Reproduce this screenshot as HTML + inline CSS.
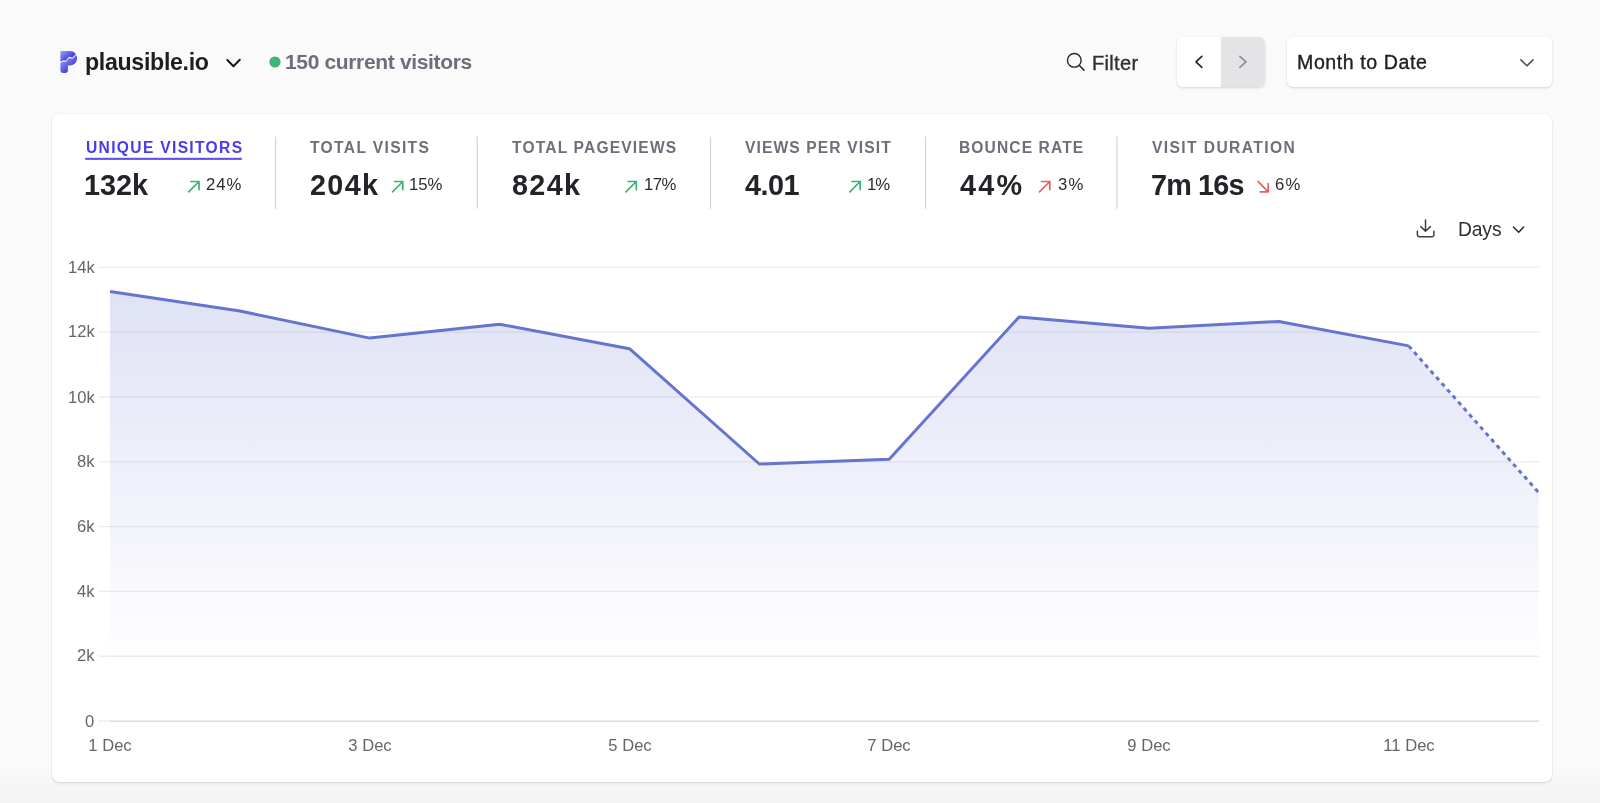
<!DOCTYPE html>
<html><head><meta charset="utf-8"><title>Plausible Dashboard</title>
<style>
html,body{margin:0;padding:0;}
body{width:1600px;height:803px;overflow:hidden;position:relative;background:#fafafa;font-family:"Liberation Sans",sans-serif;}
.abs{position:absolute;left:0;top:0;}
.t{position:absolute;white-space:nowrap;will-change:transform;}
.card{position:absolute;left:52px;top:114.2px;width:1500px;height:667.5px;background:#fff;border-radius:8px;box-shadow:0 0 0 1px rgba(0,0,0,0.025), 0 2px 3px 0 rgba(0,0,0,0.07), 0 1px 2px -1px rgba(0,0,0,0.1);}
.btn{position:absolute;background:#fff;border-radius:6px;box-shadow:0 1px 3px rgba(0,0,0,0.1), 0 1px 2px rgba(0,0,0,0.06);}
.bottomfade{position:absolute;left:0;top:765px;width:1600px;height:38px;background:linear-gradient(to bottom, rgba(0,0,0,0), rgba(0,0,0,0.028));}
</style></head>
<body>
<div class="bottomfade"></div>
<div class="card"></div>
<div class="btn" style="left:1177px;top:37.2px;width:88px;height:49.6px;overflow:hidden;"><div style="position:absolute;left:44px;top:0;width:44px;height:100%;background:#e4e4e7;"></div></div>
<div class="btn" style="left:1287px;top:37.3px;width:264.8px;height:49.6px;"></div>

<svg class="abs" width="1600" height="803" viewBox="0 0 1600 803">
 <defs>
  <linearGradient id="fillg" gradientUnits="userSpaceOnUse" x1="0" y1="267" x2="0" y2="665">
   <stop offset="0" stop-color="rgb(101,116,205)" stop-opacity="0.22"/>
   <stop offset="1" stop-color="rgb(101,116,205)" stop-opacity="0"/>
  </linearGradient>
  <linearGradient id="lg1" x1="0.05" y1="0.05" x2="0.8" y2="0.75">
   <stop offset="0" stop-color="#949cf1"/>
   <stop offset="1" stop-color="#3627d6"/>
  </linearGradient>
  <linearGradient id="lg2" x1="0.1" y1="0.25" x2="0.75" y2="1">
   <stop offset="0" stop-color="#8a93ef"/>
   <stop offset="1" stop-color="#3424d4"/>
  </linearGradient>
 </defs>
 <!-- gridlines -->
 <line x1="98.6" y1="267.40" x2="1539.2" y2="267.40" stroke="#ececef" stroke-width="1.3"/><line x1="98.6" y1="332.21" x2="1539.2" y2="332.21" stroke="#ececef" stroke-width="1.3"/><line x1="98.6" y1="397.02" x2="1539.2" y2="397.02" stroke="#ececef" stroke-width="1.3"/><line x1="98.6" y1="461.83" x2="1539.2" y2="461.83" stroke="#ececef" stroke-width="1.3"/><line x1="98.6" y1="526.64" x2="1539.2" y2="526.64" stroke="#ececef" stroke-width="1.3"/><line x1="98.6" y1="591.45" x2="1539.2" y2="591.45" stroke="#ececef" stroke-width="1.3"/><line x1="98.6" y1="656.26" x2="1539.2" y2="656.26" stroke="#ececef" stroke-width="1.3"/><line x1="98.6" y1="721.07" x2="110" y2="721.07" stroke="#ececef" stroke-width="1.3"/><line x1="109.5" y1="721.07" x2="1539.2" y2="721.07" stroke="#d6d6da" stroke-width="1.3"/>
 <!-- area -->
 <path d="M110.00,721.07 L110.00,291.50 L239.87,311.00 L369.74,338.10 L499.61,324.20 L629.48,348.70 L759.35,464.00 L889.22,459.20 L1019.09,316.90 L1148.96,328.20 L1278.83,321.50 L1408.70,345.90 L1538.57,492.50 L1538.57,721.07 Z" fill="url(#fillg)"/>
 <path d="M110.00,291.50 L239.87,311.00 L369.74,338.10 L499.61,324.20 L629.48,348.70 L759.35,464.00 L889.22,459.20 L1019.09,316.90 L1148.96,328.20 L1278.83,321.50 L1408.70,345.90" fill="none" stroke="rgb(101,116,205)" stroke-width="3.0" stroke-linejoin="round" stroke-linecap="butt"/>
 <path d="M1408.70,345.90 L1538.57,492.50" fill="none" stroke="rgb(101,116,205)" stroke-width="3.0" stroke-dasharray="4.2 4.1" stroke-linecap="butt"/>
 <!-- dividers -->
 <line x1="275.5" y1="136.6" x2="275.5" y2="208.8" stroke="#d4d4d8" stroke-width="1.2"/><line x1="477.3" y1="136.6" x2="477.3" y2="208.8" stroke="#d4d4d8" stroke-width="1.2"/><line x1="710.5" y1="136.6" x2="710.5" y2="208.8" stroke="#d4d4d8" stroke-width="1.2"/><line x1="925.5" y1="136.6" x2="925.5" y2="208.8" stroke="#d4d4d8" stroke-width="1.2"/><line x1="1116.9" y1="136.6" x2="1116.9" y2="208.8" stroke="#d4d4d8" stroke-width="1.2"/>
 <!-- underline -->
 <rect x="85.2" y="157.8" width="156.6" height="2.1" fill="#5b51ec"/>
 <!-- arrows -->
 <path d="M188.70,191.80 L199.00,181.50 M190.80,181.50 L199.00,181.50 L199.00,189.60" fill="none" stroke="#3bb273" stroke-width="1.7" stroke-linecap="round" stroke-linejoin="round"/><path d="M392.50,191.80 L402.80,181.50 M394.60,181.50 L402.80,181.50 L402.80,189.60" fill="none" stroke="#3bb273" stroke-width="1.7" stroke-linecap="round" stroke-linejoin="round"/><path d="M626.00,191.80 L636.30,181.50 M628.10,181.50 L636.30,181.50 L636.30,189.60" fill="none" stroke="#3bb273" stroke-width="1.7" stroke-linecap="round" stroke-linejoin="round"/><path d="M849.90,191.80 L860.20,181.50 M852.00,181.50 L860.20,181.50 L860.20,189.60" fill="none" stroke="#3bb273" stroke-width="1.7" stroke-linecap="round" stroke-linejoin="round"/><path d="M1039.50,191.80 L1049.80,181.50 M1041.60,181.50 L1049.80,181.50 L1049.80,189.60" fill="none" stroke="#e95f5f" stroke-width="1.7" stroke-linecap="round" stroke-linejoin="round"/><path d="M1258.00,181.40 L1268.20,191.80 M1260.20,191.80 L1268.20,191.80 L1268.20,183.70" fill="none" stroke="#e95f5f" stroke-width="1.7" stroke-linecap="round" stroke-linejoin="round"/>
 <!-- icons -->
 
<g fill="none" stroke-linecap="round" stroke-linejoin="round">
 <circle cx="1074.3" cy="60.3" r="6.85" stroke="#27272a" stroke-width="1.4"/>
 <path d="M1079.4,65.5 L1084,70.1" stroke="#27272a" stroke-width="1.5"/>
 <path d="M227.35,59.97 L233.45,66.2 L239.8,59.7" stroke="#18181b" stroke-width="2"/>
 <path d="M1201.8,56.4 L1196,61.9 L1201.8,67.4" stroke="#27272a" stroke-width="1.7"/>
 <path d="M1239.9,56.4 L1245.9,61.9 L1239.9,67.4" stroke="#8e8e9a" stroke-width="1.7"/>
 <path d="M1520.9,59.9 L1526.9,65.8 L1533,59.9" stroke="#52525b" stroke-width="1.6"/>
 <path d="M1513.4,227 L1518.7,232.2 L1523.7,227" stroke="#27272a" stroke-width="1.5"/>
 <path d="M1425.5,220.1 L1425.5,231.3 M1420.8,226.6 L1425.5,231.3 L1430.4,226.6 M1417.4,231.3 V235 Q1417.4,236.7 1419.1,236.7 H1432.2 Q1433.9,236.7 1433.9,235 V231.3" stroke="#3f3f46" stroke-width="1.5"/>
</g>
<circle cx="275" cy="62" r="5.6" fill="#3eb47b"/>
<path d="M60.4,51 L70,51 A7.1,7.25 0 0 1 75.88,54.14 L72.38,57.45 L68.89,56.76 L65.76,60.76 L63.32,60.24 L60.4,61.63 Z" fill="url(#lg1)"/>
<path d="M60.4,62.93 L63.32,61.54 L65.76,62.06 L68.89,58.06 L72.38,58.75 L76.38,55.0 A7.1,7.25 0 0 1 70,65.45 L67.9,65.45 L67.9,70.3 Q67.9,72.9 65.3,72.9 L62.8,72.9 Q60.4,72.9 60.4,70.5 Z" fill="url(#lg2)"/>

</svg>
<div class="t" id="brand" style="left:84.67px;top:51.26px;font-size:23.20px;line-height:23.20px;letter-spacing:-0.323px;color:#1d1d22;font-weight:700;">plausible.io</div>
<div class="t" id="live" style="left:284.90px;top:50.92px;font-size:21.00px;line-height:21.00px;letter-spacing:-0.348px;color:#6e6e7a;font-weight:700;">150 current visitors</div>
<div class="t" id="filter" style="left:1092.18px;top:52.87px;font-size:20.00px;line-height:20.00px;letter-spacing:0.340px;color:#2e2e35;font-weight:400;-webkit-text-stroke:0.35px #2e2e35;">Filter</div>
<div class="t" id="period" style="left:1297.44px;top:53.20px;font-size:19.60px;line-height:19.60px;letter-spacing:0.567px;color:#1d1d22;font-weight:400;-webkit-text-stroke:0.35px #1d1d22;">Month to Date</div>
<div class="t" id="lab0" style="left:85.86px;top:140.24px;font-size:15.60px;line-height:15.60px;letter-spacing:1.326px;color:#4a3aea;font-weight:700;">UNIQUE VISITORS</div>
<div class="t" id="lab1" style="left:310.33px;top:140.24px;font-size:15.60px;line-height:15.60px;letter-spacing:1.355px;color:#6e6e7b;font-weight:700;">TOTAL VISITS</div>
<div class="t" id="lab2" style="left:511.61px;top:140.24px;font-size:15.60px;line-height:15.60px;letter-spacing:1.166px;color:#6e6e7b;font-weight:700;">TOTAL PAGEVIEWS</div>
<div class="t" id="lab3" style="left:744.87px;top:140.24px;font-size:15.60px;line-height:15.60px;letter-spacing:1.120px;color:#6e6e7b;font-weight:700;">VIEWS PER VISIT</div>
<div class="t" id="lab4" style="left:958.85px;top:140.24px;font-size:15.60px;line-height:15.60px;letter-spacing:1.097px;color:#6e6e7b;font-weight:700;">BOUNCE RATE</div>
<div class="t" id="lab5" style="left:1151.86px;top:140.24px;font-size:15.60px;line-height:15.60px;letter-spacing:1.403px;color:#6e6e7b;font-weight:700;">VISIT DURATION</div>
<div class="t" id="val0" style="left:84.41px;top:170.62px;font-size:28.80px;line-height:28.80px;letter-spacing:-0.013px;color:#232328;font-weight:700;">132k</div>
<div class="t" id="val1" style="left:310.01px;top:170.62px;font-size:28.80px;line-height:28.80px;letter-spacing:1.337px;color:#232328;font-weight:700;">204k</div>
<div class="t" id="val2" style="left:511.60px;top:170.62px;font-size:28.80px;line-height:28.80px;letter-spacing:1.357px;color:#232328;font-weight:700;">824k</div>
<div class="t" id="val3" style="left:744.59px;top:170.62px;font-size:28.80px;line-height:28.80px;letter-spacing:-0.530px;color:#232328;font-weight:700;">4.01</div>
<div class="t" id="val4" style="left:959.73px;top:170.62px;font-size:28.80px;line-height:28.80px;letter-spacing:2.210px;color:#232328;font-weight:700;">44%</div>
<div class="t" id="val5" style="left:1150.72px;top:170.62px;font-size:28.80px;line-height:28.80px;letter-spacing:-0.834px;color:#232328;font-weight:700;">7m 16s</div>
<div class="t" id="chg0" style="left:206.33px;top:177.46px;font-size:16.70px;line-height:16.70px;letter-spacing:0.925px;color:#2b2b30;font-weight:400;">24%</div>
<div class="t" id="chg1" style="left:409.43px;top:177.46px;font-size:16.70px;line-height:16.70px;letter-spacing:0.025px;color:#2b2b30;font-weight:400;">15%</div>
<div class="t" id="chg2" style="left:643.56px;top:177.46px;font-size:16.70px;line-height:16.70px;letter-spacing:-0.560px;color:#2b2b30;font-weight:400;">17%</div>
<div class="t" id="chg3" style="left:867.43px;top:177.46px;font-size:16.70px;line-height:16.70px;letter-spacing:-1.130px;color:#2b2b30;font-weight:400;">1%</div>
<div class="t" id="chg4" style="left:1058.06px;top:177.46px;font-size:16.70px;line-height:16.70px;letter-spacing:1.340px;color:#2b2b30;font-weight:400;">3%</div>
<div class="t" id="chg5" style="left:1275.34px;top:177.46px;font-size:16.70px;line-height:16.70px;letter-spacing:1.290px;color:#2b2b30;font-weight:400;">6%</div>
<div class="t" id="days" style="left:1458.31px;top:219.56px;font-size:19.30px;line-height:19.30px;letter-spacing:-0.137px;color:#2e2e35;font-weight:400;">Days</div>
<div class="t" id="y0" style="right:1505.41px;text-align:right;top:259.74px;font-size:16.60px;line-height:16.60px;letter-spacing:0.000px;color:#666666;font-weight:400;">14k</div>
<div class="t" id="y1" style="right:1505.41px;text-align:right;top:324.44px;font-size:16.60px;line-height:16.60px;letter-spacing:0.000px;color:#666666;font-weight:400;">12k</div>
<div class="t" id="y2" style="right:1505.41px;text-align:right;top:389.64px;font-size:16.60px;line-height:16.60px;letter-spacing:0.000px;color:#666666;font-weight:400;">10k</div>
<div class="t" id="y3" style="right:1505.01px;text-align:right;top:454.34px;font-size:16.60px;line-height:16.60px;letter-spacing:0.000px;color:#666666;font-weight:400;">8k</div>
<div class="t" id="y4" style="right:1505.01px;text-align:right;top:519.04px;font-size:16.60px;line-height:16.60px;letter-spacing:0.000px;color:#666666;font-weight:400;">6k</div>
<div class="t" id="y5" style="right:1505.01px;text-align:right;top:583.74px;font-size:16.60px;line-height:16.60px;letter-spacing:0.000px;color:#666666;font-weight:400;">4k</div>
<div class="t" id="y6" style="right:1505.01px;text-align:right;top:648.44px;font-size:16.60px;line-height:16.60px;letter-spacing:0.000px;color:#666666;font-weight:400;">2k</div>
<div class="t" id="y7" style="right:1505.39px;text-align:right;top:713.64px;font-size:16.60px;line-height:16.60px;letter-spacing:0.000px;color:#666666;font-weight:400;">0</div>
<div class="t" id="x0" style="left:9.90px;width:200px;text-align:center;top:738.34px;font-size:16.60px;line-height:16.60px;letter-spacing:0.000px;color:#666666;font-weight:400;">1 Dec</div>
<div class="t" id="x1" style="left:269.63px;width:200px;text-align:center;top:738.34px;font-size:16.60px;line-height:16.60px;letter-spacing:0.000px;color:#666666;font-weight:400;">3 Dec</div>
<div class="t" id="x2" style="left:529.57px;width:200px;text-align:center;top:738.34px;font-size:16.60px;line-height:16.60px;letter-spacing:0.000px;color:#666666;font-weight:400;">5 Dec</div>
<div class="t" id="x3" style="left:789.44px;width:200px;text-align:center;top:738.34px;font-size:16.60px;line-height:16.60px;letter-spacing:0.000px;color:#666666;font-weight:400;">7 Dec</div>
<div class="t" id="x4" style="left:1049.08px;width:200px;text-align:center;top:738.34px;font-size:16.60px;line-height:16.60px;letter-spacing:0.000px;color:#666666;font-weight:400;">9 Dec</div>
<div class="t" id="x5" style="left:1308.71px;width:200px;text-align:center;top:738.34px;font-size:16.60px;line-height:16.60px;letter-spacing:0.000px;color:#666666;font-weight:400;">11 Dec</div>
</body></html>
